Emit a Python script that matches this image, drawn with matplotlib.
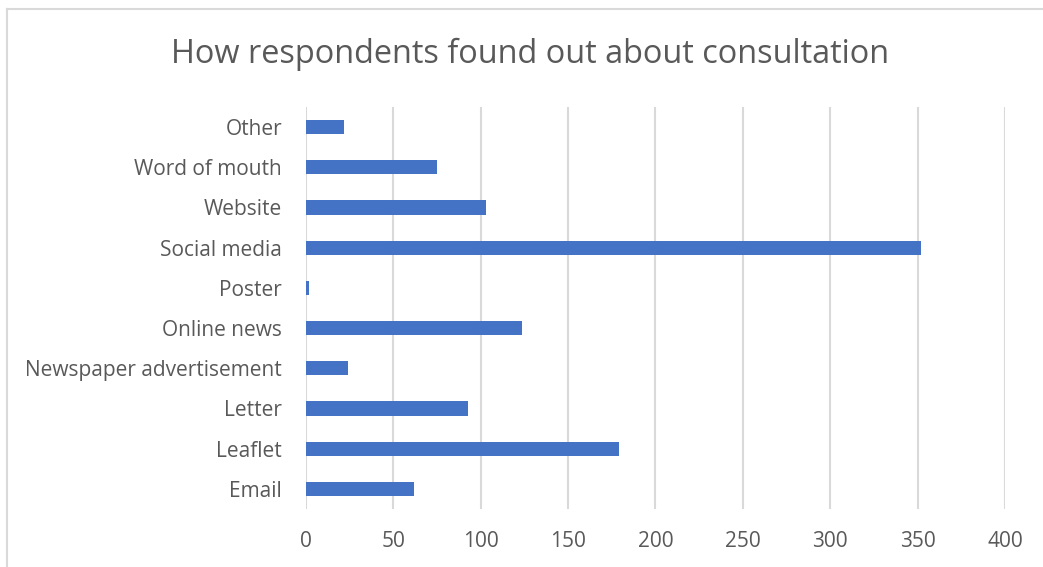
import matplotlib.pyplot as plt
from matplotlib.lines import Line2D

# survey responses, bottom to top as drawn
channels = ['Email', 'Leaflet', 'Letter', 'Newspaper advertisement', 'Online news',
            'Poster', 'Social media', 'Website', 'Word of mouth', 'Other']
counts = [62, 179, 93, 24, 124, 2, 352, 103, 75, 22]
xticks = [0, 50, 100, 150, 200, 250, 300, 350, 400]

txt = '#595959'
grid = '#d9d9d9'
plt.rcParams['font.family'] = ['Open Sans', 'DejaVu Sans']

fig = plt.figure(figsize=(10.43, 5.67), dpi=100)
ax = fig.add_axes([0.2931, 0.1023, 0.6705, 0.709])

ax.barh(range(len(channels)), counts, height=0.35, color='#4472C4', zorder=3)

ax.set_xlim(0, 400)
ax.set_ylim(-0.5, len(channels) - 0.5)
ax.set_xticks(xticks)
ax.set_yticks(range(len(channels)))
ax.set_yticklabels(channels)
ax.grid(axis='x', color=grid, linewidth=1.5, zorder=0)
ax.tick_params(axis='both', length=0, labelsize=15, colors=txt)
ax.tick_params(axis='y', pad=17)
ax.tick_params(axis='x', pad=16)
for s in ax.spines.values():
    s.set_visible(False)

fig.text(530 / 1043, 1 - 54 / 567, 'How respondents found out about consultation',
         ha='center', va='center', fontsize=23.4, color=txt)

# chart frame, clipped at right and bottom
W, H = 1043, 567
fig.add_artist(Line2D([7 / W, 1], [1 - 8.5 / H, 1 - 8.5 / H], color=grid, linewidth=1.5,
                      transform=fig.transFigure))
fig.add_artist(Line2D([7 / W, 7 / W], [0, 1 - 8.5 / H], color=grid, linewidth=1.5,
                      transform=fig.transFigure))

fig.savefig('out.png', dpi=100)
